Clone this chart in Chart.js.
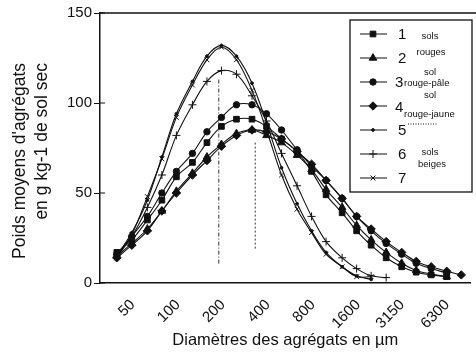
<!DOCTYPE html>
<html>
<head>
<meta charset="utf-8">
<script src="https://cdn.jsdelivr.net/npm/chart.js@4/dist/chart.umd.min.js"></script>
<style>
  html, body { margin: 0; padding: 0; background: #fff; overflow: hidden; }
  #wrap { width: 476px; height: 353px; }
</style>
</head>
<body>
<div id="wrap"><canvas id="graphe"></canvas></div>
<script>
// diamètres des tamis (µm)
const diametres = [50, 63, 80, 100, 125, 160, 200, 250, 315, 400, 500, 630, 800, 1000, 1250, 1600, 2000, 2500, 3150, 4000, 5000, 6300, 8000, 10000];
const graduationsX = [50, 100, 200, 400, 800, 1600, 3150, 6300];

// poids moyens d'agrégats (g/kg) par sol
const sol1 = [17, 24, 35, 46, 59, 67, 78, 87, 91, 91, 87, 80, 73, 62, 49, 39, 29, 21, 14, 9, 6, 4.5, 3.5];
const sol2 = [15, 22, 30, 40, 51, 61, 70, 77, 83, 85, 82, 78, 71, 63, 52, 42, 32, 24, 17, 11, 7, 5, 3.5];
const sol3 = [16, 26, 37, 50, 62, 72, 84, 92, 99, 99, 94, 85, 74, 65, 57, 47, 37, 29, 22, 16, 11, 8, 5.5];
const sol4 = [14, 21, 29, 40, 50, 60, 68, 76, 82, 85, 84, 80, 73, 66, 57, 47, 37, 30, 23, 17, 12, 9, 6.5, 4.5];
const sol5 = [15, 28, 46, 70, 94, 112, 126, 132, 126, 111, 89, 64, 44, 29, 17, 9, 4, 2];
const sol6 = [15, 26, 42, 60, 82, 99, 112, 118, 116, 104, 90, 72, 54, 37, 23, 14, 8, 4, 3];
const sol7 = [14, 27, 48, 69, 92, 110, 124, 131, 124, 107, 85, 60, 41, 28, 16, 9, 3.5, 3.5];

const numeros = ['1', '2', '3', '4', '5', '6', '7'];
const styles = ['rect', 'triangle', 'circle', 'rectRot', 'circle', 'cross', 'crossRot'];
const tailles = [4, 4.4, 3.2, 4.2, 1.4, 4, 3.4];

// traits pointillés (modes)
const modesDiam = [240, 420];
const modesHaut = [113, 78];
const modesBas = [10, 19];

const titreX = 'Diamètres des agrégats en µm';
const titreY = ["Poids moyens d'agrégats", 'en g kg-1 de sol sec'];
const groupes = ['sols', 'rouges', 'sol', 'rouge-pâle', 'sol', 'rouge-jaune', 'sols', 'beiges'];

const police = '"Liberation Sans", Arial, sans-serif';
Chart.defaults.font.family = police;
Chart.defaults.color = '#111';

const series = [sol1, sol2, sol3, sol4, sol5, sol6, sol7];
const datasets = series.map((vals, i) => ({
  label: numeros[i],
  data: vals.map((v, j) => ({ x: diametres[j], y: v })),
  borderColor: '#111',
  backgroundColor: '#111',
  pointBackgroundColor: '#111',
  pointBorderColor: '#111',
  borderWidth: 1.1,
  pointBorderWidth: 1,
  pointStyle: styles[i],
  pointRadius: tailles[i],
  tension: 0.35,
  fill: false
}));
modesDiam.forEach((d, k) => {
  datasets.push({
    label: 'mode' + k,
    data: [{ x: d, y: modesHaut[k] }, { x: d, y: modesBas[k] }],
    borderColor: '#333',
    borderWidth: 1,
    borderDash: k === 0 ? [4, 2, 1, 2] : [2, 2],
    pointRadius: 0,
    fill: false
  });
});

// cadre du haut, petites graduations internes, titre Y
const habillage = {
  id: 'habillage',
  afterDraw(chart) {
    const ctx = chart.ctx;
    const a = chart.chartArea;
    const y = chart.scales.y;
    ctx.save();
    ctx.strokeStyle = '#111';
    ctx.lineWidth = 1.5;
    ctx.beginPath();
    ctx.moveTo(a.left, a.top);
    ctx.lineTo(chart.width, a.top);
    ctx.stroke();
    ctx.lineWidth = 1;
    y.ticks.forEach(t => {
      const py = y.getPixelForValue(t.value);
      ctx.beginPath();
      ctx.moveTo(a.left, py);
      ctx.lineTo(a.left + 5, py);
      ctx.stroke();
    });
    ctx.fillStyle = '#111';
    ctx.font = '17.5px ' + police;
    ctx.textAlign = 'right';
    ctx.textBaseline = 'middle';
    [20, 42].forEach((x, k) => {
      ctx.save();
      ctx.translate(x, 63);
      ctx.rotate(-Math.PI / 2);
      ctx.fillText(titreY[k], 0, 0);
      ctx.restore();
    });
    ctx.restore();
  }
};

// légende encadrée avec les groupes de sols
const legende = {
  id: 'legende',
  afterDraw(chart) {
    const ctx = chart.ctx;
    const x0 = 350, y0 = 20, x1 = 472, y1 = 192;
    ctx.save();
    ctx.fillStyle = '#fff';
    ctx.fillRect(x0, y0, x1 - x0, y1 - y0);
    ctx.strokeStyle = '#111';
    ctx.lineWidth = 1.3;
    ctx.strokeRect(x0, y0, x1 - x0, y1 - y0);
    chart.data.datasets.slice(0, 7).forEach((ds, i) => {
      const ly = 34 + 24 * i;
      ctx.strokeStyle = '#111';
      ctx.fillStyle = '#111';
      ctx.lineWidth = 1;
      ctx.beginPath();
      ctx.moveTo(360, ly);
      ctx.lineTo(387, ly);
      ctx.stroke();
      Chart.helpers.drawPoint(ctx, { pointStyle: ds.pointStyle, radius: ds.pointRadius, borderWidth: 1, rotation: 0 }, 373, ly);
      ctx.font = '15px ' + police;
      ctx.textAlign = 'left';
      ctx.textBaseline = 'middle';
      const nx = (i === 2 || i === 3) ? 395 : 398;
      ctx.fillText(ds.label, nx, ly + (i === 3 ? 2 : 1));
    });
    ctx.font = '9.5px ' + police;
    ctx.textBaseline = 'middle';
    ctx.textAlign = 'center';
    ctx.fillText(groupes[0], 430, 36);
    ctx.fillText(groupes[1], 431, 52);
    ctx.fillText(groupes[2], 430, 72);
    ctx.fillText(groupes[4], 430, 95);
    ctx.fillText(groupes[6], 430, 152);
    ctx.fillText(groupes[7], 432, 164);
    ctx.textAlign = 'left';
    ctx.fillText(groupes[3], 404, 83);
    ctx.fillText(groupes[5], 404, 114);
    ctx.setLineDash([1, 1.5]);
    ctx.beginPath();
    ctx.moveTo(408, 124);
    ctx.lineTo(437, 124);
    ctx.stroke();
    ctx.restore();
  }
};

new Chart(document.getElementById('graphe'), {
  type: 'line',
  data: { datasets },
  options: {
    responsive: true,
    maintainAspectRatio: false,
    devicePixelRatio: 1,
    animation: false,
    layout: { padding: { top: 13, right: 1, bottom: 0, left: 0 } },
    plugins: { legend: { display: false }, tooltip: { enabled: false } },
    scales: {
      x: {
        type: 'logarithmic',
        min: 38.6,
        max: 11545,
        afterBuildTicks: s => { s.ticks = graduationsX.map(v => ({ value: v })); },
        afterFit: s => { s.height = 70; },
        grid: { display: false },
        border: { display: true, color: '#111', width: 1.5 },
        ticks: {
          callback: v => String(v),
          font: { size: 15 },
          color: '#111',
          minRotation: 45,
          maxRotation: 45,
          autoSkip: false,
          padding: 5,
          labelOffset: 16
        },
        title: {
          display: true,
          text: titreX,
          font: { size: 16.5 },
          color: '#111',
          padding: { top: 0, bottom: 3 }
        }
      },
      y: {
        min: 0,
        max: 150,
        afterFit: s => { s.width = 100; },
        grid: { drawOnChartArea: false, drawTicks: true, tickLength: 6, color: '#111', lineWidth: 1 },
        border: { display: true, color: '#111', width: 1.5 },
        ticks: { stepSize: 50, font: { size: 15 }, color: '#111', padding: 2 }
      }
    }
  },
  plugins: [habillage, legende]
});
</script>
</body>
</html>
